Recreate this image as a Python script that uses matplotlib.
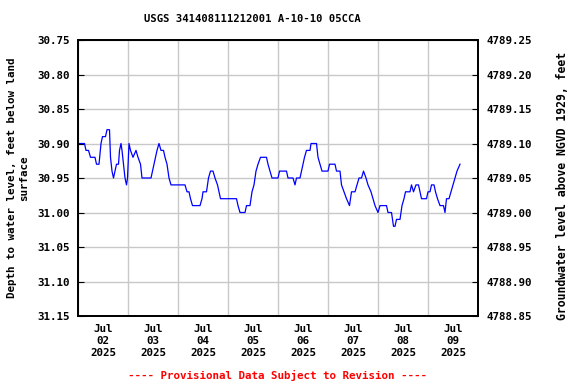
import matplotlib
matplotlib.use('Agg')
import matplotlib.pyplot as plt
import matplotlib.dates as mdates
import pandas as pd

# data (days after 2025-07-02 00:00, depth below land surface, ft)
day_offset = [0.00, 0.01, 0.13, 0.16, 0.21, 0.25, 0.34, 0.37, 0.42, 0.46, 0.49, 0.55, 0.58, 0.63,
              0.65, 0.68, 0.71, 0.74, 0.77, 0.81, 0.83, 0.86, 0.88, 0.91, 0.94, 0.97, 0.99,
              1.02, 1.05, 1.10, 1.16, 1.20, 1.25, 1.28, 1.46, 1.49, 1.52, 1.55, 1.58, 1.62,
              1.66, 1.71, 1.74, 1.78, 1.82, 1.86, 2.14, 2.18, 2.22, 2.25, 2.29, 2.44, 2.48,
              2.50, 2.57, 2.61, 2.65, 2.70, 2.74, 2.79, 2.82, 2.85, 3.17, 3.20, 3.24, 3.34,
              3.37, 3.44, 3.48, 3.52, 3.56, 3.60, 3.65, 3.77, 3.80, 3.84, 3.88, 4.00, 4.03,
              4.17, 4.20, 4.30, 4.34, 4.37, 4.44, 4.47, 4.50, 4.53, 4.57, 4.64, 4.66, 4.77,
              4.80, 4.84, 4.88, 5.00, 5.03, 5.14, 5.17, 5.24, 5.27, 5.32, 5.37, 5.43, 5.47,
              5.54, 5.58, 5.62, 5.67, 5.71, 5.76, 5.80, 5.86, 5.90, 5.94, 6.00, 6.04, 6.17,
              6.20, 6.27, 6.31, 6.34, 6.37, 6.44, 6.48, 6.52, 6.55, 6.64, 6.67, 6.71, 6.76,
              6.81, 6.84, 6.87, 6.97, 7.00, 7.04, 7.07, 7.12, 7.15, 7.19, 7.24, 7.31, 7.34,
              7.37, 7.42, 7.46, 7.50, 7.54, 7.58, 7.64]
depth_ft = [30.91, 30.90, 30.90, 30.91, 30.91, 30.92, 30.92, 30.93, 30.93, 30.90, 30.89, 30.89, 30.88, 30.88,
            30.92, 30.94, 30.95, 30.94, 30.93, 30.93, 30.91, 30.90, 30.91, 30.93, 30.95, 30.96, 30.95,
            30.90, 30.91, 30.92, 30.91, 30.92, 30.93, 30.95, 30.95, 30.94, 30.93, 30.92, 30.91, 30.90,
            30.91, 30.91, 30.92, 30.93, 30.95, 30.96, 30.96, 30.97, 30.97, 30.98, 30.99, 30.99, 30.98,
            30.97, 30.97, 30.95, 30.94, 30.94, 30.95, 30.96, 30.97, 30.98, 30.98, 30.99, 31.00, 31.00,
            30.99, 30.99, 30.97, 30.96, 30.94, 30.93, 30.92, 30.92, 30.93, 30.94, 30.95, 30.95, 30.94,
            30.94, 30.95, 30.95, 30.96, 30.95, 30.95, 30.94, 30.93, 30.92, 30.91, 30.91, 30.90, 30.90,
            30.92, 30.93, 30.94, 30.94, 30.93, 30.93, 30.94, 30.94, 30.96, 30.97, 30.98, 30.99, 30.97,
            30.97, 30.96, 30.95, 30.95, 30.94, 30.95, 30.96, 30.97, 30.98, 30.99, 31.00, 30.99, 30.99,
            31.00, 31.00, 31.02, 31.02, 31.01, 31.01, 30.99, 30.98, 30.97, 30.97, 30.96, 30.97, 30.96,
            30.96, 30.97, 30.98, 30.98, 30.97, 30.97, 30.96, 30.96, 30.97, 30.98, 30.99, 30.99, 31.00,
            30.98, 30.98, 30.97, 30.96, 30.95, 30.94, 30.93]

left_ticks = [30.75, 30.80, 30.85, 30.90, 30.95, 31.00, 31.05, 31.10, 31.15]
datum_offset = 4820.00  # elevation = datum_offset - depth
start = pd.Timestamp('2025-07-02')
end = pd.Timestamp('2025-07-10')

times = [start + pd.Timedelta(days=d) for d in day_offset]

font = 'DejaVu Sans Mono'
fs = 7.8

fig = plt.figure(figsize=(5.76, 3.84), dpi=100)
ax = fig.add_axes([78 / 576, 68 / 384, 400 / 576, 276 / 384])

ax.plot(times, depth_ft, color='#0000ff', linewidth=0.9)

ax.set_ylim(31.15, 30.75)
ax.set_yticks(left_ticks)
ax.set_yticklabels(['%.2f' % v for v in left_ticks], fontfamily=font, fontweight='bold', fontsize=fs)
ax.set_xlim(start, end)

# gridlines at midnight, labels at noon
ax.xaxis.set_major_locator(mdates.DayLocator())
ax.xaxis.set_major_formatter(plt.NullFormatter())
ax.xaxis.set_minor_locator(mdates.HourLocator(byhour=12))
ax.xaxis.set_minor_formatter(mdates.DateFormatter('%b\n%d\n%Y'))
ax.tick_params(axis='x', which='minor', length=0, pad=6)
ax.tick_params(axis='x', which='major', length=0)
for lab in ax.get_xticklabels(minor=True):
    lab.set_fontfamily(font)
    lab.set_fontweight('bold')
    lab.set_fontsize(fs)
    lab.set_linespacing(1.25)

ax.grid(True, which='major', color='#c8c8c8', linewidth=1)
ax.tick_params(axis='y', direction='in', length=4, pad=6)
for s in ax.spines.values():
    s.set_linewidth(1.3)

ax.set_ylabel('Depth to water level, feet below land\nsurface', fontfamily=font,
              fontweight='bold', fontsize=fs, labelpad=6)

ax2 = ax.twinx()
ax2.set_ylim(datum_offset - 31.15, datum_offset - 30.75)
right_ticks = [datum_offset - v for v in left_ticks]
ax2.set_yticks(right_ticks)
ax2.set_yticklabels(['%.2f' % v for v in right_ticks], fontfamily=font, fontweight='bold', fontsize=fs)
ax2.tick_params(axis='y', direction='in', length=4, pad=6)
ax2.set_ylabel('Groundwater level above NGVD 1929, feet', fontfamily=font,
               fontweight='bold', fontsize=8.3, labelpad=8)
ax2.yaxis.set_label_coords(1.195, 0.47)
for s in ax2.spines.values():
    s.set_linewidth(1.3)

fig.text(252 / 576, 1 - 19 / 384, 'USGS 341408111212001 A-10-10 05CCA', ha='center', va='center',
         fontfamily=font, fontweight='bold', fontsize=7.6)
fig.text(278 / 576, 1 - 375 / 384, '---- Provisional Data Subject to Revision ----', ha='center',
         va='center', color='red', fontfamily=font, fontweight='bold', fontsize=7.8)

fig.savefig('out.png', dpi=100)
